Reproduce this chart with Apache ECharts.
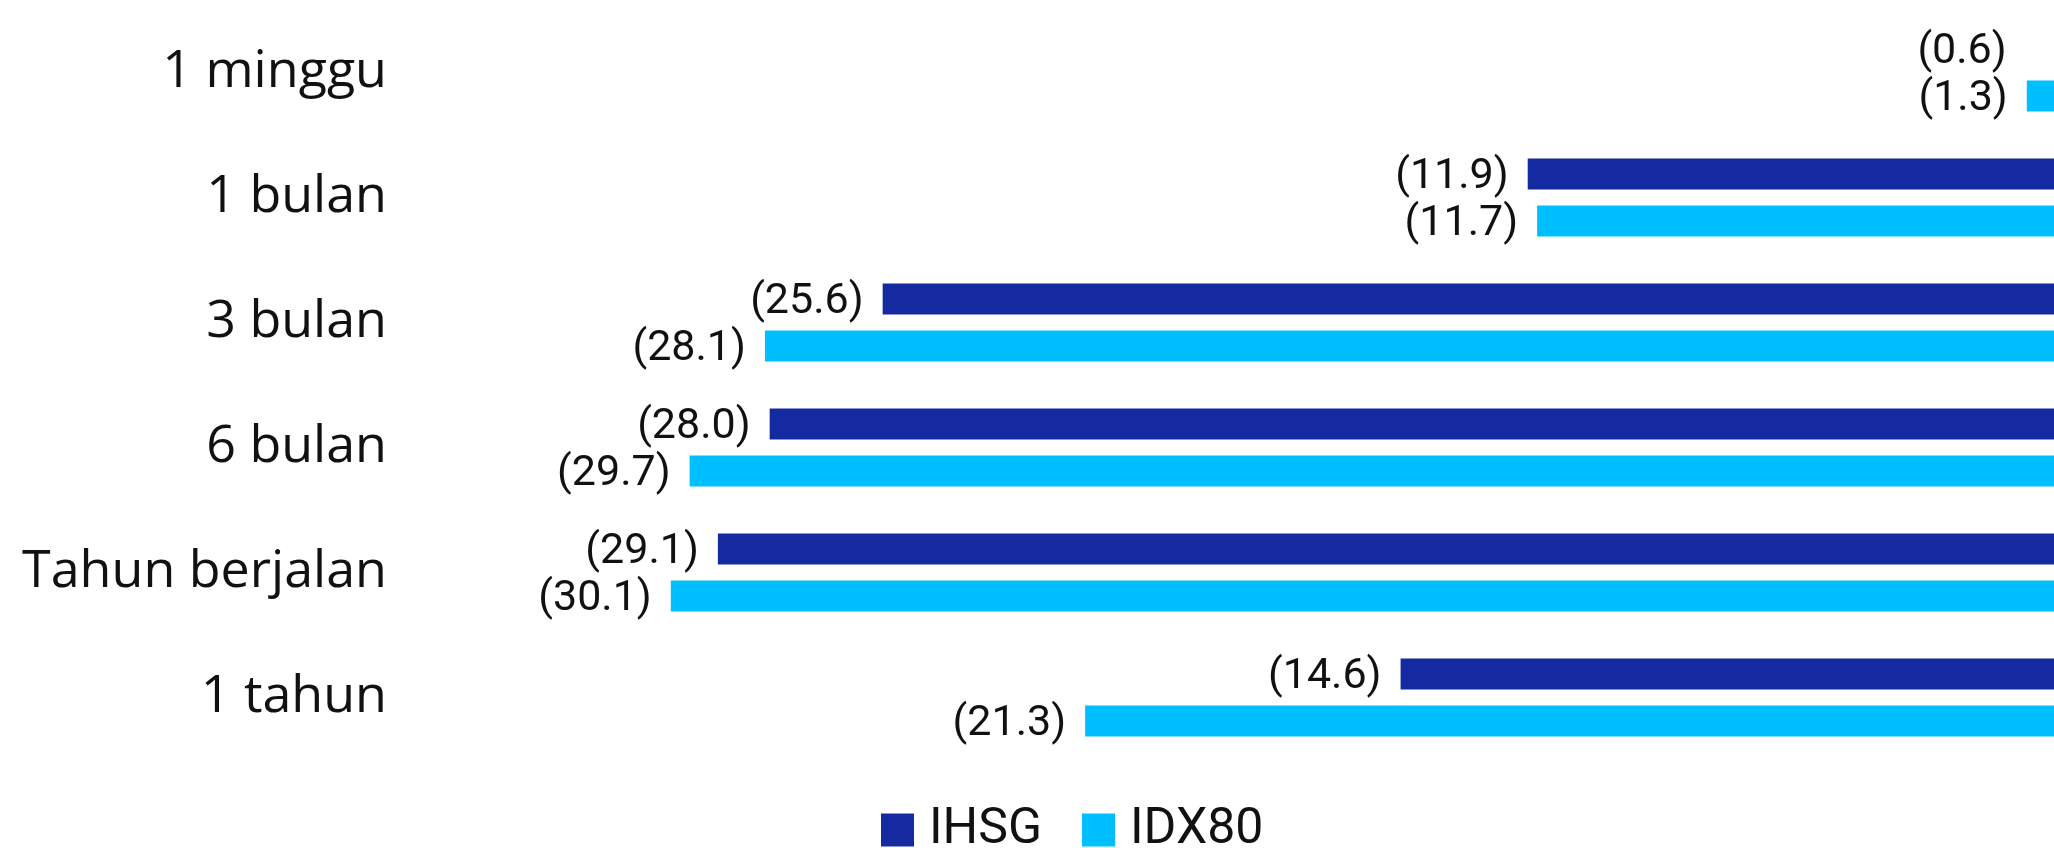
<!DOCTYPE html>
<html>
<head>
<meta charset="utf-8">
<script src="https://cdn.jsdelivr.net/npm/echarts@6/dist/echarts.min.js"></script>
<style>
html,body{margin:0;padding:0;background:#fff;}
#chart{width:2054px;height:848px;}
</style>
</head>
<body>
<div id="chart"></div>
<script>
var categories = ['1 minggu', '1 bulan', '3 bulan', '6 bulan', 'Tahun berjalan', '1 tahun'];
var ihsg = [-0.6, -11.9, -25.6, -28.0, -29.1, -14.6];
var idx80 = [-1.3, -11.7, -28.1, -29.7, -30.1, -21.3];
var seriesNames = ['IHSG', 'IDX80'];

var chart = echarts.init(document.getElementById('chart'), null, {renderer: 'canvas'});
var labelFont = 'Roboto';
function fmt(p){ return '(' + Math.abs(p.value).toFixed(1) + ')'; }
function mkData(arr, first){
  return arr.map(function(v, i){
    if (first && i === 0) return {value: v, label: {offset: [-34, 3]}};
    return v;
  });
}
var option = {
  animation: false,
  backgroundColor: '#ffffff',
  grid: {left: 393, width: 1695, top: 10, bottom: 88, outerBoundsMode: 'none', containLabel: false},
  xAxis: {
    type: 'value', min: -36, max: 0,
    show: false
  },
  yAxis: {
    type: 'category', data: categories, inverse: true,
    axisLine: {show: false}, axisTick: {show: false},
    axisLabel: {
      fontSize: 52, color: '#111', fontFamily: 'Open Sans', margin: 6
    }
  },
  legend: {
    data: seriesNames, left: 876, top: 800,
    itemWidth: 33, itemHeight: 33, itemGap: 40,
    icon: 'rect',
    textStyle: {fontSize: 50, color: '#111', fontFamily: labelFont, padding: [0,0,0,10]}
  },
  series: [
    {
      name: seriesNames[0], type: 'bar', data: mkData(ihsg, true),
      barWidth: 31, barGap: '52%',
      itemStyle: {color: '#152AA1'},
      label: {show: true, position: 'left', distance: 19, offset: [0, 3], formatter: fmt,
        fontSize: 43, color: '#111', fontFamily: labelFont}
    },
    {
      name: seriesNames[1], type: 'bar', data: mkData(idx80, false),
      barWidth: 31,
      itemStyle: {color: '#00BFFF'},
      label: {show: true, position: 'left', distance: 19, offset: [0, 3], formatter: fmt,
        fontSize: 43, color: '#111', fontFamily: labelFont}
    }
  ]
};
chart.setOption(option);
</script>
</body>
</html>
